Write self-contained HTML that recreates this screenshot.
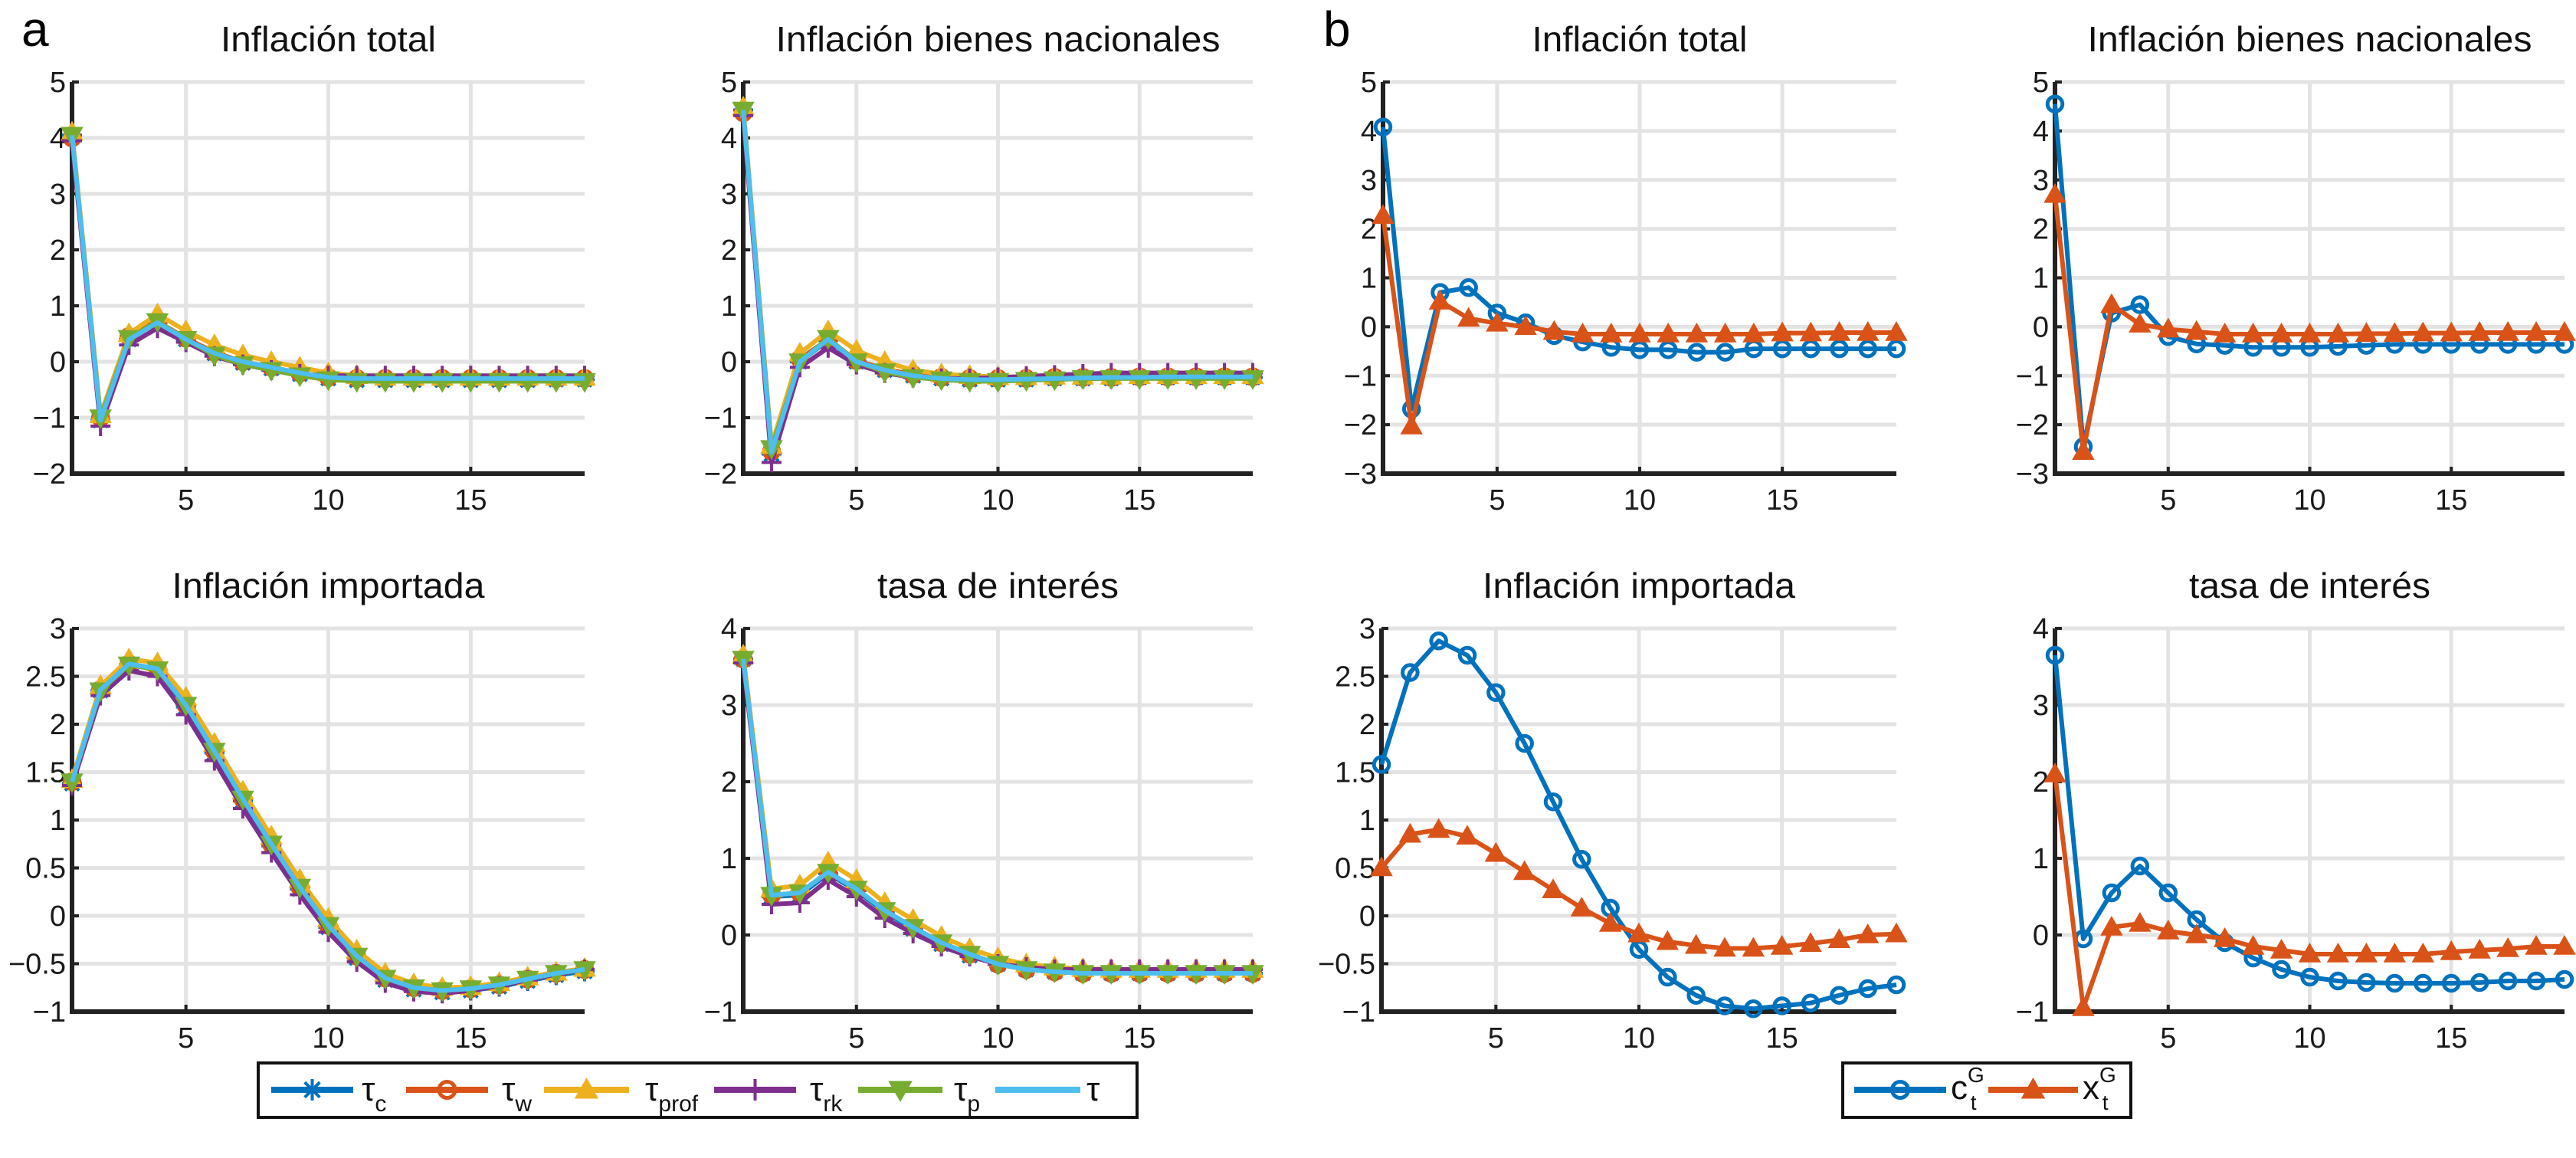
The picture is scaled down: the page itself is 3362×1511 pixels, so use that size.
<!DOCTYPE html>
<html><head><meta charset="utf-8"><style>
html,body{margin:0;padding:0;background:#fff;}
svg{display:block;font-family:"Liberation Sans",Arial,sans-serif;}
</style></head><body>
<svg id="fig" width="3362" height="1511" viewBox="0 0 3362 1511" xmlns="http://www.w3.org/2000/svg">
<rect width="3362" height="1511" fill="#fff"/>
<text x="28" y="60" font-size="64">a</text>
<text x="1727" y="60" font-size="64">b</text>
</svg>
<script>
// ---- data ----
const periods = [1,2,3,4,5,6,7,8,9,10,11,12,13,14,15,16,17,18,19];
const xTicks = [5,10,15];
// panel a1: Inflación total
const a1_c    = [4.05,-1.05,0.40,0.70,0.40,0.15,-0.02,-0.12,-0.22,-0.30,-0.33,-0.33,-0.33,-0.33,-0.33,-0.33,-0.33,-0.32,-0.32];
const a1_w    = [4.00,-1.00,0.45,0.72,0.42,0.17,0.00,-0.10,-0.20,-0.28,-0.30,-0.30,-0.30,-0.30,-0.30,-0.30,-0.30,-0.30,-0.30];
const a1_prof = [4.10,-0.95,0.50,0.85,0.55,0.30,0.12,0.00,-0.10,-0.20,-0.25,-0.28,-0.28,-0.28,-0.28,-0.28,-0.28,-0.28,-0.28];
const a1_rk   = [3.95,-1.15,0.30,0.60,0.35,0.10,-0.05,-0.15,-0.22,-0.25,-0.25,-0.25,-0.25,-0.25,-0.25,-0.25,-0.25,-0.25,-0.25];
const a1_p    = [4.05,-1.00,0.42,0.72,0.40,0.12,-0.05,-0.15,-0.25,-0.32,-0.35,-0.35,-0.35,-0.35,-0.35,-0.35,-0.35,-0.35,-0.35];
const a1_tau  = [4.05,-1.05,0.40,0.70,0.40,0.15,0.00,-0.10,-0.20,-0.28,-0.30,-0.30,-0.30,-0.30,-0.30,-0.30,-0.30,-0.30,-0.30];
// panel a2: Inflación bienes nacionales
const a2_c    = [4.50,-1.65,0.00,0.38,0.00,-0.15,-0.25,-0.30,-0.32,-0.32,-0.32,-0.30,-0.30,-0.30,-0.28,-0.28,-0.28,-0.28,-0.28];
const a2_w    = [4.45,-1.60,0.05,0.40,0.02,-0.13,-0.23,-0.28,-0.30,-0.30,-0.30,-0.28,-0.28,-0.28,-0.27,-0.27,-0.27,-0.27,-0.27];
const a2_prof = [4.55,-1.50,0.15,0.55,0.20,0.00,-0.15,-0.22,-0.25,-0.27,-0.27,-0.26,-0.26,-0.26,-0.25,-0.25,-0.25,-0.25,-0.25];
const a2_rk   = [4.40,-1.80,-0.10,0.25,-0.05,-0.20,-0.28,-0.30,-0.30,-0.28,-0.26,-0.24,-0.22,-0.20,-0.20,-0.20,-0.20,-0.20,-0.20];
const a2_p    = [4.50,-1.55,0.00,0.42,0.00,-0.18,-0.28,-0.32,-0.35,-0.35,-0.33,-0.32,-0.30,-0.30,-0.30,-0.30,-0.30,-0.30,-0.30];
const a2_tau  = [4.50,-1.62,0.00,0.40,0.00,-0.15,-0.25,-0.30,-0.32,-0.32,-0.31,-0.30,-0.29,-0.28,-0.28,-0.27,-0.27,-0.27,-0.27];
// panel a3: Inflación importada
const a3_c    = [1.38,2.35,2.62,2.57,2.18,1.70,1.20,0.73,0.28,-0.12,-0.44,-0.67,-0.77,-0.80,-0.78,-0.74,-0.68,-0.62,-0.58];
const a3_w    = [1.40,2.36,2.63,2.58,2.20,1.72,1.22,0.75,0.30,-0.10,-0.42,-0.65,-0.75,-0.78,-0.76,-0.72,-0.66,-0.60,-0.56];
const a3_prof = [1.42,2.40,2.68,2.64,2.28,1.80,1.30,0.83,0.38,-0.03,-0.36,-0.60,-0.71,-0.75,-0.74,-0.70,-0.64,-0.59,-0.55];
const a3_rk   = [1.36,2.30,2.56,2.50,2.10,1.62,1.12,0.66,0.22,-0.17,-0.48,-0.70,-0.79,-0.81,-0.78,-0.73,-0.67,-0.61,-0.56];
const a3_p    = [1.40,2.35,2.62,2.57,2.20,1.72,1.22,0.75,0.30,-0.10,-0.42,-0.65,-0.75,-0.78,-0.76,-0.72,-0.66,-0.60,-0.56];
const a3_tau  = [1.40,2.36,2.63,2.58,2.20,1.72,1.22,0.75,0.30,-0.10,-0.42,-0.65,-0.75,-0.78,-0.76,-0.72,-0.66,-0.60,-0.56];
// panel a4: tasa de interés
const a4_c    = [3.60,0.50,0.52,0.80,0.58,0.30,0.08,-0.12,-0.27,-0.38,-0.45,-0.48,-0.50,-0.50,-0.50,-0.50,-0.50,-0.50,-0.50];
const a4_w    = [3.60,0.52,0.55,0.82,0.60,0.32,0.10,-0.10,-0.25,-0.38,-0.45,-0.48,-0.50,-0.50,-0.50,-0.50,-0.50,-0.50,-0.50];
const a4_prof = [3.65,0.60,0.65,0.95,0.72,0.42,0.20,-0.02,-0.18,-0.30,-0.38,-0.42,-0.44,-0.45,-0.45,-0.45,-0.45,-0.45,-0.45];
const a4_rk   = [3.55,0.40,0.42,0.72,0.50,0.22,0.02,-0.15,-0.28,-0.38,-0.42,-0.45,-0.45,-0.45,-0.45,-0.45,-0.45,-0.45,-0.45];
const a4_p    = [3.60,0.52,0.55,0.82,0.60,0.32,0.10,-0.10,-0.25,-0.38,-0.45,-0.48,-0.50,-0.50,-0.50,-0.50,-0.50,-0.50,-0.50];
const a4_tau  = [3.60,0.52,0.55,0.82,0.60,0.32,0.10,-0.10,-0.25,-0.38,-0.45,-0.48,-0.50,-0.50,-0.50,-0.50,-0.50,-0.50,-0.50];
// panel b
const b1_cG = [4.08,-1.68,0.70,0.80,0.28,0.08,-0.18,-0.31,-0.42,-0.47,-0.47,-0.52,-0.52,-0.45,-0.45,-0.45,-0.45,-0.45,-0.45];
const b1_xG = [2.27,-2.03,0.52,0.17,0.07,0.00,-0.10,-0.15,-0.15,-0.15,-0.15,-0.15,-0.15,-0.15,-0.13,-0.13,-0.12,-0.12,-0.12];
const b2_cG = [4.55,-2.45,0.28,0.45,-0.20,-0.35,-0.38,-0.42,-0.42,-0.42,-0.40,-0.38,-0.36,-0.36,-0.36,-0.36,-0.36,-0.36,-0.36];
const b2_xG = [2.70,-2.55,0.45,0.05,-0.05,-0.10,-0.15,-0.15,-0.15,-0.15,-0.15,-0.14,-0.14,-0.13,-0.13,-0.12,-0.12,-0.12,-0.12];
const b3_cG = [1.58,2.54,2.87,2.72,2.33,1.80,1.19,0.59,0.08,-0.35,-0.64,-0.83,-0.94,-0.97,-0.94,-0.91,-0.83,-0.76,-0.72];
const b3_xG = [0.50,0.85,0.90,0.83,0.65,0.46,0.27,0.08,-0.08,-0.19,-0.27,-0.31,-0.34,-0.34,-0.32,-0.29,-0.25,-0.20,-0.19];
const b4_cG = [3.65,-0.05,0.55,0.90,0.55,0.20,-0.10,-0.30,-0.45,-0.55,-0.60,-0.62,-0.63,-0.63,-0.63,-0.62,-0.60,-0.60,-0.58];
const b4_xG = [2.10,-0.95,0.10,0.15,0.05,0.00,-0.05,-0.15,-0.20,-0.25,-0.25,-0.25,-0.25,-0.25,-0.22,-0.20,-0.18,-0.15,-0.15];
const yTicksTop = [-2,-1,0,1,2,3,4,5];
const yTicksTopB = [-3,-2,-1,0,1,2,3,4,5];
const yTicksImp = [-1,-0.5,0,0.5,1,1.5,2,2.5,3];
const yTicksRate = [-1,0,1,2,3,4];

// ---- layout ----
const NS = "http://www.w3.org/2000/svg";
const svg = document.getElementById('fig');
const BLUE="#0072BD", ORANGE="#D95319", YEL="#EDB120", PUR="#7E2F8E", GRN="#77AC30", CYAN="#4DBEEE";
const aSeries = (p) => [
  {key:'tau-c', vals:p.c, color:BLUE, marker:'star'},
  {key:'tau-w', vals:p.w, color:ORANGE, marker:'circle'},
  {key:'tau-prof', vals:p.prof, color:YEL, marker:'tri'},
  {key:'tau-rk', vals:p.rk, color:PUR, marker:'plus'},
  {key:'tau-p', vals:p.p, color:GRN, marker:'tridown'},
  {key:'tau', vals:p.tau, color:CYAN, marker:null}];
const bSeries = (c,x) => [
  {key:'c-g', vals:c, color:BLUE, marker:'circle'},
  {key:'x-g', vals:x, color:ORANGE, marker:'tri'}];
const rowTop = {t:107,b:618}, rowBot = {t:820,b:1320};
const panels = [
 {id:'a-inflacion-total', title:'Inflación total', tl:281, left:94, right:763, row:rowTop, ymin:-2, ymax:5, yt:yTicksTop, series:aSeries({c:a1_c,w:a1_w,prof:a1_prof,rk:a1_rk,p:a1_p,tau:a1_tau})},
 {id:'a-inflacion-nacionales', title:'Inflación bienes nacionales', tl:580, left:970, right:1635, row:rowTop, ymin:-2, ymax:5, yt:yTicksTop, series:aSeries({c:a2_c,w:a2_w,prof:a2_prof,rk:a2_rk,p:a2_p,tau:a2_tau})},
 {id:'a-inflacion-importada', title:'Inflación importada', tl:408, left:94, right:763, row:rowBot, ymin:-1, ymax:3, yt:yTicksImp, series:aSeries({c:a3_c,w:a3_w,prof:a3_prof,rk:a3_rk,p:a3_p,tau:a3_tau})},
 {id:'a-tasa-interes', title:'tasa de interés', tl:315, left:970, right:1635, row:rowBot, ymin:-1, ymax:4, yt:yTicksRate, series:aSeries({c:a4_c,w:a4_w,prof:a4_prof,rk:a4_rk,p:a4_p,tau:a4_tau})},
 {id:'b-inflacion-total', title:'Inflación total', tl:281, left:1805, right:2475, row:rowTop, ymin:-3, ymax:5, yt:yTicksTopB, series:bSeries(b1_cG,b1_xG)},
 {id:'b-inflacion-nacionales', title:'Inflación bienes nacionales', tl:580, left:2682, right:3347, row:rowTop, ymin:-3, ymax:5, yt:yTicksTopB, series:bSeries(b2_cG,b2_xG)},
 {id:'b-inflacion-importada', title:'Inflación importada', tl:408, left:1803, right:2475, row:rowBot, ymin:-1, ymax:3, yt:yTicksImp, series:bSeries(b3_cG,b3_xG)},
 {id:'b-tasa-interes', title:'tasa de interés', tl:315, left:2682, right:3347, row:rowBot, ymin:-1, ymax:4, yt:yTicksRate, series:bSeries(b4_cG,b4_xG)}
];
function el(tag, attrs, parent){const e=document.createElementNS(NS,tag);for(const k in attrs)e.setAttribute(k,attrs[k]);(parent||svg).appendChild(e);return e;}
function fmt(v){const s=String(Math.abs(v));return (v<0?'\u2212':'')+s;}
function marker(g, type, x, y, color, s){
  let m;
  if(type==='circle'){m=el('circle',{cx:x,cy:y,r:s*0.75,fill:'none',stroke:color,'stroke-width':5},g);}
  else if(type==='tri'){m=el('polygon',{points:`${x},${y-s} ${x-s},${y+s*0.75} ${x+s},${y+s*0.75}`,fill:color,stroke:color,'stroke-width':2},g);}
  else if(type==='tridown'){m=el('polygon',{points:`${x},${y+s} ${x-s},${y-s*0.75} ${x+s},${y-s*0.75}`,fill:color,stroke:color,'stroke-width':2},g);}
  else if(type==='plus'){m=el('path',{d:`M${x-s} ${y}H${x+s}M${x} ${y-s}V${y+s}`,stroke:color,'stroke-width':4,fill:'none'},g);}
  else if(type==='star'){const d=s*0.7;m=el('path',{d:`M${x-s} ${y}H${x+s}M${x} ${y-s}V${y+s}M${x-d} ${y-d}L${x+d} ${y+d}M${x-d} ${y+d}L${x+d} ${y-d}`,stroke:color,'stroke-width':4,fill:'none'},g);}
  return m;
}
panels.forEach(P=>{
  const g=el('g',{});
  
  
  const top=P.row.t, bot=P.row.b;
  const sx=v=>P.left+(v-1)/(18)*(P.right-P.left);
  const sy=v=>bot-(v-P.ymin)/(P.ymax-P.ymin)*(bot-top);
  const grid=el('g',{},g);
  
  
  P.yt.forEach(t=>{ if(t!==P.ymin) el('line',{x1:P.left,x2:P.right,y1:sy(t),y2:sy(t),stroke:'#e3e3e3','stroke-width':5},grid);});
  xTicks.forEach(t=>{el('line',{x1:sx(t),x2:sx(t),y1:top,y2:bot,stroke:'#e3e3e3','stroke-width':5},grid);});
  const ax=el('path',{d:`M${P.left} ${top}V${bot}H${P.right}`,fill:'none',stroke:'#222','stroke-width':6},g);
  
  
  P.yt.forEach(t=>{
    el('line',{x1:P.left,x2:P.left+9,y1:sy(t),y2:sy(t),stroke:'#222','stroke-width':4},g);
    const tx=el('text',{x:P.left-8,y:sy(t)+13,'font-size':38,'text-anchor':'end',fill:'#1a1a1a'},g);
    tx.textContent=fmt(t);
    
    
  });
  xTicks.forEach(t=>{
    el('line',{x1:sx(t),x2:sx(t),y1:bot,y2:bot-9,stroke:'#222','stroke-width':4},g);
    const tx=el('text',{x:sx(t),y:bot+47,'font-size':38,'text-anchor':'middle',fill:'#1a1a1a'},g);
    tx.textContent=String(t);
    
    
  });
  const ti=el('text',{x:(P.left+P.right)/2,y:top-40,'font-size':46,'text-anchor':'middle',fill:'#111',textLength:P.tl,lengthAdjust:'spacingAndGlyphs'},g);
  ti.textContent=P.title;
  
  
  P.series.forEach(S=>{
    const sg=el('g',{},g);
    
    
    const pts=S.vals.map((v,i)=>sx(periods[i])+','+sy(v)).join(' ');
    const ln=el('polyline',{points:pts,fill:'none',stroke:S.color,'stroke-width':6,'stroke-linejoin':'round'},sg);
    
    
    if(S.marker){
      S.vals.forEach((v,i)=>{
        const m=marker(sg,S.marker,sx(periods[i]),sy(v),S.color,13);
        
        
      });
    }
  });
});
// ---- legends ----
function legendBox(x,y,w,h,name){
  const r=el('rect',{x:x,y:y,width:w,height:h,fill:'#fff',stroke:'#111','stroke-width':4});
  
  
}
function legendEntry(x1,x2,cy,color,mk,name){
  const g=el('g',{});
  
  
  el('line',{x1:x1,x2:x2,y1:cy,y2:cy,stroke:color,'stroke-width':8},g);
  if(mk) marker(g,mk,(x1+x2)/2,cy,color,14);
  return g;
}
function label(x,y,main,sub,sup,name){
  const t=el('text',{x:x,y:y,'font-size':44,fill:'#111'});
  
  
  const a=el('tspan',{},t);a.textContent=main;
  if(sup){const s=el('tspan',{'font-size':28,dy:-22},t);s.textContent=sup;
    const b=el('tspan',{'font-size':28,dx:-18,dy:36},t);b.textContent=sub;}
  else if(sub){const b=el('tspan',{'font-size':30,dy:14},t);b.textContent=sub;}
}
legendBox(337,1387,1147,71,'legend-a');
const ly=1422;
legendEntry(354,461,ly,BLUE,'star','legend-entry-tau-c');   label(472,ly+14,'\u03c4','c',null,'legend-label-tau-c');
legendEntry(530,637,ly,ORANGE,'circle','legend-entry-tau-w'); label(655,ly+14,'\u03c4','w',null,'legend-label-tau-w');
legendEntry(710,821,ly,YEL,'tri','legend-entry-tau-prof');   label(842,ly+14,'\u03c4','prof',null,'legend-label-tau-prof');
legendEntry(932,1039,ly,PUR,'plus','legend-entry-tau-rk');   label(1057,ly+14,'\u03c4','rk',null,'legend-label-tau-rk');
legendEntry(1120,1230,ly,GRN,'tridown','legend-entry-tau-p'); label(1245,ly+14,'\u03c4','p',null,'legend-label-tau-p');
legendEntry(1299,1410,ly,CYAN,null,'legend-entry-tau');      label(1418,ly+14,'\u03c4',null,null,'legend-label-tau');
legendBox(2405,1387,376,71,'legend-b');
legendEntry(2420,2540,ly,BLUE,'circle','legend-entry-c-g');  label(2546,ly+12,'c','t','G','legend-label-c-g');
legendEntry(2595,2712,ly,ORANGE,'tri','legend-entry-x-g');   label(2718,ly+12,'x','t','G','legend-label-x-g');
</script>
</body></html>
